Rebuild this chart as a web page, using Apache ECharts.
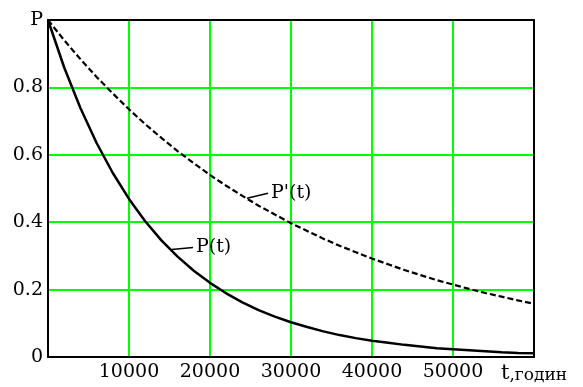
<!DOCTYPE html>
<html><head><meta charset="utf-8">
<script src="https://cdn.jsdelivr.net/npm/echarts@6/dist/echarts.min.js"></script>
<style>html,body{margin:0;padding:0;background:#fff}#c{width:583px;height:387px}</style>
</head><body><div id="c"></div>
<script>
const tValues = [0,2000,4000,6000,8000,10000,12000,14000,16000,18000,20000,22000,24000,26000,28000,30000,32000,34000,36000,38000,40000,42000,44000,46000,48000,50000,52000,54000,56000,58000,60000];
const pValues = [1,0.859,0.739,0.635,0.546,0.469,0.403,0.346,0.298,0.256,0.220,0.189,0.162,0.139,0.120,0.103,0.089,0.076,0.065,0.056,0.048,0.042,0.036,0.031,0.026,0.023,0.020,0.017,0.014,0.012,0.011];
const pPrimeValues = [1,0.940,0.884,0.831,0.782,0.735,0.691,0.650,0.611,0.575,0.540,0.508,0.478,0.449,0.423,0.397,0.374,0.351,0.330,0.311,0.292,0.275,0.258,0.243,0.228,0.215,0.202,0.190,0.179,0.168,0.158];
const xTickLabels = {10000:'10000',20000:'20000',30000:'30000',40000:'40000',50000:'50000'};
const yTickLabels = {0:'0',0.2:'0.2',0.4:'0.4',0.6:'0.6',0.8:'0.8',1:'P'};
const seriesNames = ['P(t)', "P'(t)"];
const pLeader = [[15270,0.319],[17900,0.325]];
const pPrimeLeader = [[24570,0.471],[27160,0.486]];

const font = 'DejaVu Serif';
const chart = echarts.init(document.getElementById('c'));
function leader(data, name){
  return {type:'line', data:data, symbol:'none', silent:true,
    lineStyle:{color:'#000', width:1.5},
    endLabel:{show:true, formatter:name, color:'#000', fontFamily:font, fontSize:19, distance:3}};
}
const frameAxis = {axisLine:{show:true, onZero:false, lineStyle:{color:'#000', width:2}}, axisTick:{show:false}, axisLabel:{show:false}, splitLine:{show:false}};
chart.setOption({
  animation:false,
  backgroundColor:'#fff',
  grid:{left:48, right:49, top:20, bottom:30},
  xAxis:[{type:'value', min:0, max:60000, interval:10000,
    axisLine:{show:true, lineStyle:{color:'#000', width:2}},
    axisTick:{show:false},
    splitLine:{show:true, lineStyle:{color:'#00ff00', width:2}},
    axisLabel:{color:'#000', fontFamily:font, fontSize:19, margin:6,
      formatter:function(v){ if(v===60000) return '{t|t}{u|,годин}'; return xTickLabels[v]||''; },
      rich:{t:{fontFamily:font, fontSize:21, color:'#000'}, u:{fontFamily:font, fontSize:17, color:'#000', padding:[4,0,0,0]}}}
  }, Object.assign({type:'value', position:'top', min:0, max:60000}, frameAxis)],
  yAxis:[{type:'value', min:0, max:1, interval:0.2,
    axisLine:{show:true, lineStyle:{color:'#000', width:2}},
    axisTick:{show:false},
    splitLine:{show:true, lineStyle:{color:'#00ff00', width:2}},
    axisLabel:{color:'#000', fontFamily:font, fontSize:19, margin:5,
      formatter:function(v){ const k=Math.round(v*10)/10; return yTickLabels[k]!==undefined?yTickLabels[k]:''; }}
  }, Object.assign({type:'value', position:'right', min:0, max:1}, frameAxis)],
  series:[
    {type:'line', name:seriesNames[0], data:tValues.map((t,i)=>[t,pValues[i]]), symbol:'none', lineStyle:{color:'#000', width:2.5}, z:5},
    {type:'line', name:seriesNames[1], data:tValues.map((t,i)=>[t,pPrimeValues[i]]), symbol:'none', lineStyle:{color:'#000', width:2.2, type:[6,3]}, z:5},
    leader(pLeader, seriesNames[0]),
    leader(pPrimeLeader, seriesNames[1])
  ]
});
</script></body></html>
